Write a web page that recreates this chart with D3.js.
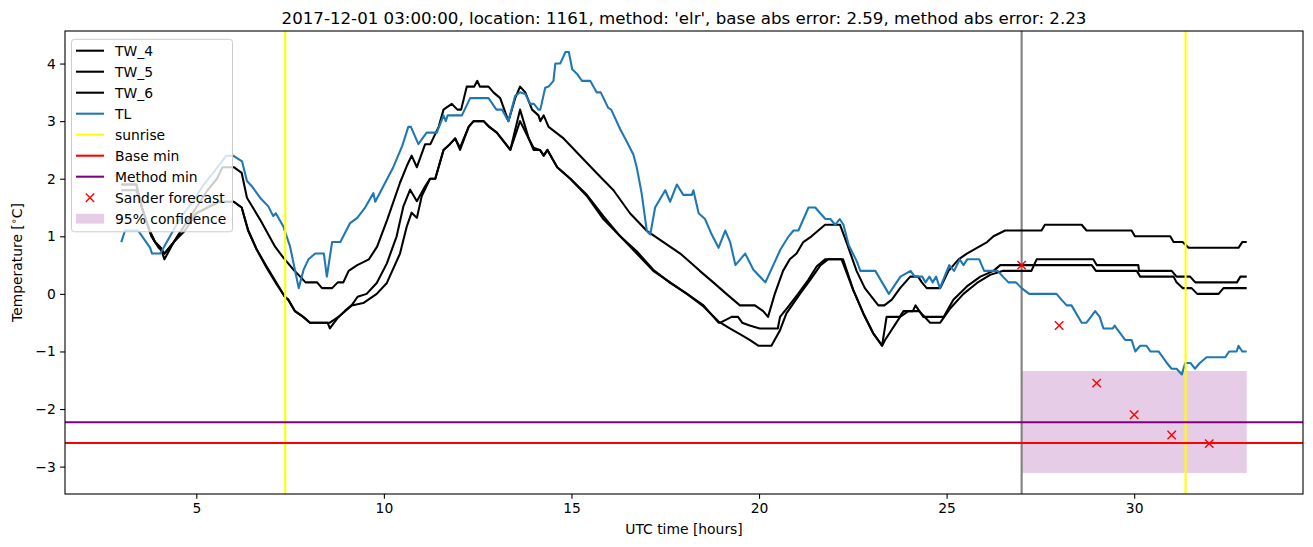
<!DOCTYPE html>
<html>
<head>
<meta charset="utf-8">
<script src="https://cdn.jsdelivr.net/npm/d3@7"></script>
<style>
  body { margin: 0; background: #fff; }
  text { font-family: "DejaVu Sans", sans-serif; }
</style>
</head>
<body>
<svg id="chart" width="1313" height="547"></svg>
<script>
// ---------------- data ----------------
const titleText = "2017-12-01 03:00:00, location: 1161, method: 'elr', base abs error: 2.59, method abs error: 2.23";
const xTicks = [5, 10, 15, 20, 25, 30];
const yTicks = [-3, -2, -1, 0, 1, 2, 3, 4];

// [hour, temperature] vertices
const TW_4 = [[3.0,1.9],[3.4,1.9],[3.55,1.5],[3.75,1.1],[3.9,0.9],[4.05,0.8],[4.15,0.6],[4.4,0.9],[4.7,1.2],[5.0,1.5],[5.3,1.8],[5.55,2.0],[5.7,2.2],[6.0,2.2],
  [6.21,2.1],[6.35,1.67],[6.7,1.29],[7.1,0.82],[7.33,0.62],[7.59,0.42],[7.77,0.3],[7.91,0.2],[8.22,0.2],[8.35,0.1],[8.62,0.1],[8.77,0.2],[8.92,0.2],[9.06,0.4],[9.29,0.5],[9.6,0.6],[9.82,0.82],[10.09,1.29],
  [10.43,1.93],[10.61,2.22],[10.74,2.4],[10.88,2.2],[11.1,2.6],[11.24,2.6],[11.46,2.9],[11.59,3.2],[11.81,3.3],[11.96,3.2],[12.06,3.2],[12.21,3.6],[12.41,3.6],[12.49,3.7],[12.56,3.6],[12.79,3.6],[12.92,3.5],[13.1,3.4],[13.32,3.0],[13.5,3.4],[13.63,3.6],[13.77,3.5],[13.95,3.2],[14.12,3.1],[14.17,3.0],[14.26,3.1],[14.39,2.9],[14.79,2.7],[15.23,2.4],[15.67,2.1],[16.12,1.8],[16.56,1.4],[17.0,1.1],[17.45,0.9],[17.9,0.7],[18.34,0.45],
  [18.42,0.4],[18.78,0.2],[19.13,0.0],[19.49,-0.2],[19.89,-0.2],[20.11,-0.3],[20.24,-0.4],[20.42,0.0],[20.64,0.4],[20.82,0.6],[21.0,0.7],[21.18,0.9],[21.4,1.0],[21.58,1.1],[21.76,1.2],[22.16,1.2],[22.33,0.9],[22.6,0.4],[22.82,0.1],[23.18,-0.2],[23.34,-0.2],[23.54,-0.1],[23.76,0.1],[24.03,0.3],[24.24,0.3],[24.34,0.2],[24.47,0.1],[24.83,0.1],[25.05,0.4],[25.32,0.6],[25.54,0.7],[25.81,0.8],[26.08,0.9],[26.25,1.0],[26.56,1.1],
  [27.53,1.1],[27.62,1.2],[28.6,1.2],[28.73,1.1],[29.93,1.1],[30.02,1.0],[30.96,1.0],[31.05,0.9],[31.29,0.9],[31.45,0.8],[32.78,0.8],[32.88,0.9],[33.0,0.9]];

const TW_5 = [[3.0,1.9],[3.4,1.9],[3.55,1.5],[3.75,1.1],[3.9,0.9],[4.05,0.8],[4.15,0.7],[4.4,0.9],[4.7,1.2],[5.0,1.4],[5.3,1.5],[5.6,1.6],[6.0,1.6],
  [6.21,1.5],[6.38,1.1],[6.61,0.77],[6.87,0.48],[7.14,0.19],[7.36,-0.05],[7.45,-0.1],[7.63,-0.3],[7.85,-0.4],[8.03,-0.5],[8.56,-0.5],[8.79,-0.4],[8.96,-0.3],[9.14,-0.2],[9.3,-0.05],[9.54,0.0],[9.81,0.19],[10.08,0.53],[10.34,1.0],[10.52,1.52],[10.7,1.81],[10.88,1.61],[11.1,1.87],[11.23,2.0],[11.37,2.0],[11.59,2.5],[11.76,2.6],[11.9,2.7],[12.03,2.54],[12.26,2.9],[12.39,3.0],[12.66,3.0],[12.81,2.9],[13.01,2.8],[13.37,2.5],[13.63,3.2],[13.86,2.7],[13.99,2.54],[14.16,2.5],[14.26,2.4],[14.36,2.5],[14.62,2.2],[14.97,2.0],[15.41,1.72],[15.85,1.35],[16.3,1.0],[16.74,0.74],[17.18,0.42],[17.63,0.19],[18.08,0.0],[18.52,-0.22],[18.92,-0.48],[18.97,-0.5],
  [19.27,-0.4],[19.44,-0.4],[19.55,-0.5],[19.75,-0.55],[20.02,-0.6],[20.5,-0.6],[20.56,-0.4],[20.78,-0.22],[21.04,0.0],[21.31,0.24],[21.54,0.48],[21.76,0.6],[22.2,0.6],[22.51,0.07],[22.78,-0.34],[23.04,-0.68],[23.28,-0.9],[23.36,-0.8],[23.76,-0.4],[23.98,-0.3],[24.27,-0.3],[24.56,-0.5],[24.83,-0.5],[25.1,-0.25],[25.45,0.0],[25.81,0.19],[26.16,0.33],[26.51,0.4],
  [27.26,0.4],[27.4,0.6],[28.91,0.6],[29.0,0.5],[30.11,0.5],[30.13,0.4],[31.0,0.4],[31.13,0.3],[31.49,0.3],[31.63,0.2],[32.74,0.2],[32.83,0.3],[33.0,0.3]];

const TW_6 = [[3.0,1.8],[3.4,1.8],[3.6,1.4],[3.8,1.0],[4.0,0.8],[4.15,0.7],[4.4,0.9],[4.7,1.1],[5.0,1.4],[5.3,1.5],[5.6,1.6],[6.0,1.6],
  [6.21,1.5],[6.38,1.11],[6.61,0.77],[6.87,0.46],[7.14,0.17],[7.36,-0.05],[7.45,-0.1],[7.63,-0.3],[7.85,-0.4],[8.03,-0.5],[8.5,-0.5],[8.56,-0.6],[8.79,-0.4],[8.96,-0.3],[9.14,-0.2],[9.45,-0.16],[9.81,0.0],[10.08,0.19],[10.43,0.7],[10.61,1.17],[10.74,1.41],[10.88,1.32],[11.01,1.7],[11.23,2.0],[11.37,2.0],[11.59,2.5],[11.76,2.6],[11.9,2.7],[12.03,2.5],[12.26,2.9],[12.39,3.0],[12.66,3.0],[12.81,2.9],[13.01,2.8],[13.37,2.5],[13.63,3.0],[13.86,2.7],[13.99,2.5],[14.16,2.5],[14.26,2.4],[14.36,2.5],[14.62,2.2],[14.97,2.0],[15.41,1.7],[15.85,1.3],[16.3,1.0],[16.74,0.7],[17.18,0.4],[17.63,0.2],[18.08,0.0],[18.52,-0.2],[18.92,-0.5],[18.97,-0.5],
  [19.22,-0.6],[19.49,-0.7],[19.75,-0.8],[19.98,-0.9],[20.33,-0.9],[20.56,-0.63],[20.73,-0.34],[21.09,0.0],[21.36,0.24],[21.64,0.5],[21.84,0.6],[22.24,0.6],[22.51,0.07],[22.78,-0.34],[23.04,-0.68],[23.28,-0.9],[23.4,-0.4],[23.75,-0.4],[23.85,-0.3],[24.1,-0.3],[24.17,-0.2],[24.38,-0.4],[24.92,-0.4],[25.18,-0.1],[25.54,0.13],[25.9,0.3],[26.25,0.4],[26.43,0.5],
  [28.87,0.5],[28.98,0.4],[30.07,0.4],[30.16,0.3],[31.05,0.3],[31.13,0.2],[31.29,0.1],[31.53,0.1],[31.68,0.0],[32.25,0.0],[32.38,0.1],[33.0,0.1]];

const TL = [[3.0,0.9],[3.1,1.1],[3.45,1.1],[3.77,0.8],[3.82,0.7],[4.04,0.7],[4.3,1.0],[4.55,1.3],[4.9,1.6],[5.2,1.9],[5.45,2.1],[5.8,2.4],[5.98,2.4],
  [6.22,2.3],[6.35,1.96],[6.48,1.87],[6.7,1.67],[6.92,1.52],[7.05,1.35],[7.12,1.4],[7.32,1.17],[7.5,0.82],[7.73,0.1],[7.86,0.42],[7.99,0.6],[8.17,0.7],[8.4,0.7],[8.48,0.3],[8.62,0.9],[8.84,0.9],[9.1,1.23],[9.29,1.32],[9.5,1.5],[9.72,1.75],[9.77,1.6],[10.25,2.2],[10.49,2.57],[10.65,2.9],[10.72,2.9],[10.92,2.6],[11.14,2.8],[11.41,2.8],[11.59,3.1],[11.65,3.0],[11.7,3.1],[12.08,3.1],[12.3,3.4],[12.79,3.4],[13.0,3.2],[13.15,3.2],[13.32,3.0],[13.5,3.44],[13.63,3.5],[13.77,3.47],[13.9,3.3],[14.0,3.3],[14.12,3.2],[14.17,3.2],[14.3,3.58],[14.39,3.6],[14.52,3.7],[14.57,4.0],[14.7,4.0],[14.84,4.2],[14.93,4.2],[15.02,3.9],[15.15,3.82],[15.28,3.7],[15.5,3.7],[15.67,3.5],[15.78,3.5],[15.98,3.23],[16.06,3.2],[16.3,2.86],[16.47,2.65],[16.65,2.42],[16.74,2.2],[16.87,1.75],[17.01,1.09],[17.1,1.03],[17.23,1.5],[17.5,1.8],[17.63,1.6],[17.81,1.9],[17.98,1.72],[18.21,1.72],[18.25,1.8],[18.39,1.4],[18.56,1.3],[18.74,1.03],[18.92,0.8],[19.1,1.1],[19.23,0.9],[19.37,0.5],[19.5,0.6],[19.63,0.7],[19.85,0.42],[20.17,0.2],[20.57,0.77],[20.79,1.0],[20.92,1.1],[21.05,1.1],[21.32,1.5],[21.5,1.5],[21.63,1.4],[21.77,1.3],[21.9,1.3],[22.03,1.2],[22.15,1.3],[22.25,1.2],[22.39,0.85],[22.61,0.56],[22.7,0.4],[23.1,0.4],[23.46,0.0],[23.77,0.3],[24.04,0.4],[24.15,0.3],[24.35,0.3],[24.44,0.2],[24.54,0.3],[24.63,0.2],[24.72,0.3],[24.82,0.1],
  [25.07,0.5],[25.2,0.4],[25.35,0.6],[25.45,0.5],[25.55,0.6],[25.87,0.6],[26.0,0.4],[26.36,0.4],[26.5,0.3],[26.65,0.2],[26.85,0.2],[27.0,0.1],[27.2,0.0],
  [27.93,0.0],[28.06,-0.1],[28.2,-0.2],[28.33,-0.2],[28.6,-0.5],[28.73,-0.5],[28.96,-0.3],[29.08,-0.4],[29.18,-0.6],[29.43,-0.6],[29.48,-0.55],[29.53,-0.6],[29.76,-0.8],[29.93,-0.8],[30.03,-1.0],[30.16,-0.9],[30.33,-0.9],[30.43,-1.0],[30.65,-1.0],[30.87,-1.2],[31.0,-1.3],[31.13,-1.3],[31.27,-1.4],[31.36,-1.2],[31.5,-1.2],[31.62,-1.3],[31.75,-1.2],[31.93,-1.1],[32.43,-1.1],[32.53,-1.0],[32.73,-1.0],[32.78,-0.9],[32.88,-1.0],[33.0,-1.0]];

const sunriseHours = [7.37, 31.37];
const forecastStart = 27;
const baseMin = -2.59;
const methodMin = -2.23;
const sanderHours = [27, 28, 29, 30, 31, 32];
const sanderValues = [0.5, -0.55, -1.55, -2.1, -2.45, -2.6];
const confidenceHours = [27, 33];
const confidenceLow = -3.11;
const confidenceHigh = -1.34;

// ---------------- layout ----------------
const svg = d3.select("#chart");
const M = { left: 65, right: 1303, top: 31, bottom: 494 };
const x = d3.scaleLinear().domain([1.5, 34.5]).range([M.left, M.right]);
const y = d3.scaleLinear().domain([-3.4755, 4.5655]).range([M.bottom, M.top]);
const FS = 13.89;

const clip = svg.append("defs").append("clipPath").attr("id", "clip")
  .append("rect").attr("x", M.left).attr("y", M.top)
  .attr("width", M.right - M.left).attr("height", M.bottom - M.top);

const plot = svg.append("g").attr("clip-path", "url(#clip)");

// confidence band
plot.append("rect")
  .attr("x", x(confidenceHours[0])).attr("width", x(confidenceHours[1]) - x(confidenceHours[0]))
  .attr("y", y(confidenceHigh)).attr("height", y(confidenceLow) - y(confidenceHigh))
  .attr("fill", "purple").attr("fill-opacity", 0.2);

// forecast start line
plot.append("line").attr("x1", x(forecastStart)).attr("x2", x(forecastStart))
  .attr("y1", M.top).attr("y2", M.bottom).attr("stroke", "grey").attr("stroke-width", 2.08);

const line = d3.line().x(d => x(d[0])).y(d => y(d[1]));
[TW_4, TW_5, TW_6].forEach(s => {
  plot.append("path").attr("d", line(s)).attr("fill", "none")
    .attr("stroke", "black").attr("stroke-width", 2.08).attr("stroke-linejoin", "round");
});
plot.append("path").attr("d", line(TL)).attr("fill", "none")
  .attr("stroke", "#1f77b4").attr("stroke-width", 2.08).attr("stroke-linejoin", "round");

sunriseHours.forEach(h => {
  plot.append("line").attr("x1", x(h)).attr("x2", x(h)).attr("y1", M.top).attr("y2", M.bottom)
    .attr("stroke", "yellow").attr("stroke-width", 2.08);
});
plot.append("line").attr("x1", M.left).attr("x2", M.right).attr("y1", y(baseMin)).attr("y2", y(baseMin))
  .attr("stroke", "red").attr("stroke-width", 2.08);
plot.append("line").attr("x1", M.left).attr("x2", M.right).attr("y1", y(methodMin)).attr("y2", y(methodMin))
  .attr("stroke", "purple").attr("stroke-width", 2.08);

const xm = 4.2;
function cross(g, cx, cy) {
  g.append("path").attr("d", `M${cx - xm},${cy - xm}L${cx + xm},${cy + xm}M${cx - xm},${cy + xm}L${cx + xm},${cy - xm}`)
    .attr("stroke", "red").attr("stroke-width", 1.4).attr("fill", "none");
}
sanderHours.forEach((h, i) => cross(plot, x(h), y(sanderValues[i])));

// ---------------- axes ----------------
const fmt = d => (d < 0 ? "\u2212" + Math.abs(d) : String(d));
const xAxis = svg.append("g").attr("transform", `translate(0,${M.bottom})`)
  .call(d3.axisBottom(x).tickValues(xTicks).tickFormat(fmt).tickSize(4.86).tickPadding(4.4).tickSizeOuter(0));
const yAxis = svg.append("g").attr("transform", `translate(${M.left},0)`)
  .call(d3.axisLeft(y).tickValues(yTicks).tickFormat(fmt).tickSize(4.86).tickPadding(4.4).tickSizeOuter(0));
[xAxis, yAxis].forEach(a => {
  a.select(".domain").remove();
  a.selectAll(".tick line").attr("stroke", "black").attr("stroke-width", 1.1);
  a.selectAll(".tick text").attr("font-family", "DejaVu Sans").attr("font-size", FS).attr("fill", "black");
});

// frame
svg.append("rect").attr("x", M.left).attr("y", M.top).attr("width", M.right - M.left).attr("height", M.bottom - M.top)
  .attr("fill", "none").attr("stroke", "black").attr("stroke-width", 1.1);

// title and labels
svg.append("text").attr("x", (M.left + M.right) / 2).attr("y", 23.5).attr("text-anchor", "middle")
  .attr("font-size", 16.67).text(titleText);
svg.append("text").attr("x", (M.left + M.right) / 2).attr("y", 534).attr("text-anchor", "middle")
  .attr("font-size", FS).text("UTC time [hours]");
const yl = svg.append("text").attr("transform", `translate(22,${(M.top + M.bottom) / 2}) rotate(-90)`)
  .attr("text-anchor", "middle").attr("font-size", FS);
yl.append("tspan").text("Temperature [");
yl.append("tspan").attr("font-size", FS * 0.7).attr("dy", -5).text("\u2218");
yl.append("tspan").attr("dy", 5).text("C]");

// ---------------- legend ----------------
const lg = svg.append("g");
lg.append("rect").attr("x", 71.5).attr("y", 39.3).attr("width", 161).attr("height", 192.5).attr("rx", 3)
  .attr("fill", "white").attr("fill-opacity", 0.8).attr("stroke", "#cccccc").attr("stroke-width", 1);
const legendItems = [
  { label: "TW_4", type: "line", color: "black" },
  { label: "TW_5", type: "line", color: "black" },
  { label: "TW_6", type: "line", color: "black" },
  { label: "TL", type: "line", color: "#1f77b4" },
  { label: "sunrise", type: "line", color: "yellow" },
  { label: "Base min", type: "line", color: "red" },
  { label: "Method min", type: "line", color: "purple" },
  { label: "Sander forecast", type: "marker", color: "red" },
  { label: "95% confidence", type: "patch", color: "purple" }
];
legendItems.forEach((it, i) => {
  const cy = 50.7 + i * 21;
  if (it.type === "line") {
    lg.append("line").attr("x1", 76).attr("x2", 104).attr("y1", cy).attr("y2", cy)
      .attr("stroke", it.color).attr("stroke-width", 2.08);
  } else if (it.type === "marker") {
    cross(lg, 90, cy);
  } else {
    lg.append("rect").attr("x", 76).attr("y", cy - 4.9).attr("width", 28).attr("height", 9.8)
      .attr("fill", it.color).attr("fill-opacity", 0.2);
  }
  lg.append("text").attr("x", 115).attr("y", cy + 5).attr("font-size", FS).text(it.label);
});
</script>
</body>
</html>
